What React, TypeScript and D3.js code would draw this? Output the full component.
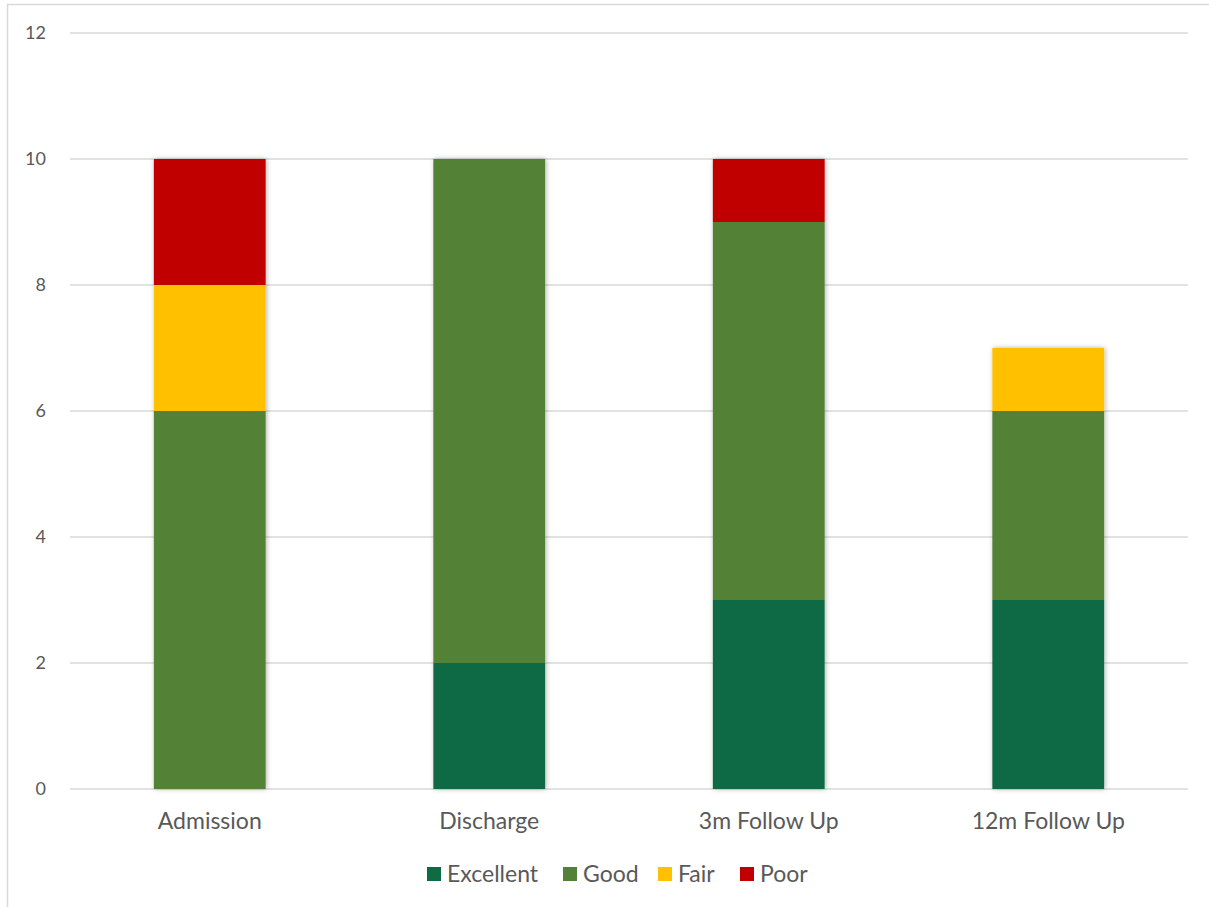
import React from "react";
import * as d3 from "d3";

const categories = ["Admission", "Discharge", "3m Follow Up", "12m Follow Up"];
const seriesNames = ["Excellent", "Good", "Fair", "Poor"];
const excellent = [0, 2, 3, 3];
const good = [6, 8, 6, 3];
const fair = [2, 0, 0, 1];
const poor = [2, 0, 1, 0];
const yTicks = [0, 2, 4, 6, 8, 10, 12];
const colors = ["#0E6B44", "#538135", "#FFC000", "#C00000"];

const W = 1209;
const H = 907;
const FONT = "Lato, 'Open Sans', sans-serif";
const TEXT = "#595959";

export default function App() {
  const rows = categories.map((c, i) => ({
    cat: c,
    Excellent: excellent[i],
    Good: good[i],
    Fair: fair[i],
    Poor: poor[i],
  }));
  const stack = d3.stack<any>().keys(seriesNames)(rows);
  const x = d3.scaleBand().domain(categories).range([70, 1188]).paddingInner(0.6).paddingOuter(0.3);
  const y = d3.scaleLinear().domain([0, 12]).range([789, 33]);

  const legendItems = [
    { name: "Excellent", x: 427 },
    { name: "Good", x: 563 },
    { name: "Fair", x: 658 },
    { name: "Poor", x: 740 },
  ];

  return (
    <svg width={W} height={H} style={{ position: "absolute", left: 0, top: 0, background: "#fff" }}>
      <defs>
        <filter id="sh" x="-20%" y="-5%" width="140%" height="110%">
          <feDropShadow dx="1" dy="0" stdDeviation="2.5" floodColor="#000" floodOpacity="0.3" />
        </filter>
      </defs>
      <rect x={7.5} y={4.5} width={1300} height={1000} fill="#fff" stroke="#D9D9D9" strokeWidth={1.5} />
      {yTicks.map((t) => (
        <g key={t}>
          <line x1={70} x2={1188} y1={y(t)} y2={y(t)} stroke="#D9D9D9" strokeWidth={1.5} />
          <text x={46} y={y(t)} dy="0.35em" textAnchor="end" fontFamily={FONT} fontSize={18} fill={TEXT}>
            {t}
          </text>
        </g>
      ))}
      <g filter="url(#sh)">
        {stack.map((s, si) =>
          s.map((d, i) =>
            d[1] - d[0] > 0 ? (
              <rect
                key={`${si}-${i}`}
                x={x(categories[i])}
                width={x.bandwidth()}
                y={y(d[1])}
                height={y(d[0]) - y(d[1])}
                fill={colors[si]}
              />
            ) : null
          )
        )}
      </g>
      {categories.map((c) => (
        <text
          key={c}
          x={(x(c) as number) + x.bandwidth() / 2}
          y={829}
          textAnchor="middle"
          fontFamily={FONT}
          fontSize={23}
          fill={TEXT}
        >
          {c}
        </text>
      ))}
      {legendItems.map((l, i) => (
        <g key={l.name}>
          <rect x={l.x} y={867} width={14} height={14} fill={colors[i]} />
          <text x={l.x + 20} y={874} dy="0.35em" fontFamily={FONT} fontSize={23} fill={TEXT}>
            {l.name}
          </text>
        </g>
      ))}
    </svg>
  );
}
